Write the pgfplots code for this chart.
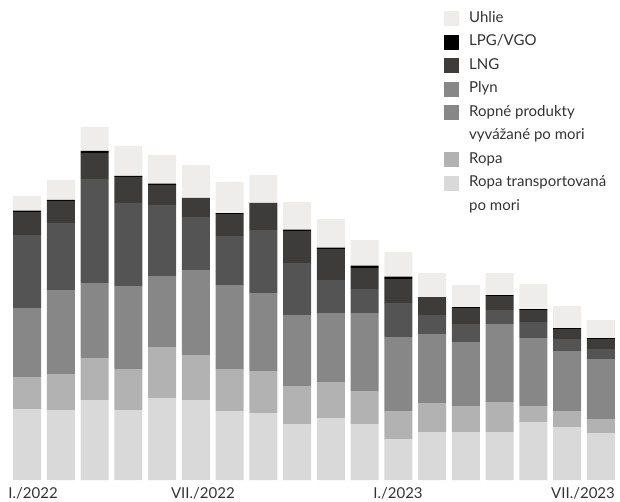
\documentclass[border=0pt]{standalone}
\usepackage{pgfplots}
\pgfplotsset{compat=1.18}
\usepackage{pgfplotstable}
\usepackage{fontspec}
\setmainfont{Lato}

\definecolor{cUhlie}{HTML}{EEEDEB}
\definecolor{cLPG}{HTML}{000000}
\definecolor{cLNG}{HTML}{3D3C3A}
\definecolor{cPlyn}{HTML}{545454}
\definecolor{cRopne}{HTML}{878787}
\definecolor{cRopa}{HTML}{B2B2B2}
\definecolor{cRT}{HTML}{D9D9D9}
\definecolor{ctext}{HTML}{333333}

% one row per month, Jan 2022 - Jun 2023
\pgfplotstableread{
x  RT  Ropa Ropne Plyn LNG LPG Uhlie
0  71  32   69    73   23  1.3 14.7
1  70  36   84    67   22  1.0 20.0
2  80  42   75    104  26  2.0 24.0
3  70  41   83    83   26  1.0 30.0
4  82  51   71    71   20  1.3 28.7
5  80  45   85    53   19  0.0 33.0
6  69  42   84    49   22  1.0 31.0
7  67  42   78    63   27  0.0 28.0
8  56  38   71    52   32  1.3 27.7
9  62  36   69    33   31  1.3 28.7
10 56  33   78    24   21  2.3 25.7
11 41  28   74    34   24  2.3 24.7
12 48  29   69    19   18  0.0 24.0
13 48  26   64    18   16  1.0 22.0
14 48  30   78    14   14  1.0 22.0
15 58  16   68    16   12  1.0 25.0
16 53  16   60    12   10  1.0 22.0
17 47  14   60    10   10  1.0 18.0
}\energy

\begin{document}
\begin{tikzpicture}
\useasboundingbox (0pt,-21pt) rectangle (620pt,480pt);
\begin{axis}[
  at={(0pt,0pt)}, anchor=south west,
  scale only axis,
  width=620pt, height=480pt,
  xmin=-0.8, xmax=17.565,
  ymin=0, ymax=480,
  ybar stacked,
  bar width=28pt,
  axis line style={draw=none},
  tick style={draw=none},
  ytick=\empty,
  xtick={0.18,5.21,10.99,16.47},
  xticklabels={{I./2022},{VII./2022},{I./2023},{VII./2023}},
  xticklabel style={anchor=base, yshift=-18pt, font=\fontsize{15}{18}\selectfont, text=ctext},
  legend image code/.code={\fill[#1, draw=none] (0pt,-7.5pt) rectangle (15pt,7.5pt);},
  legend cell align=left,
  legend style={
    at={(rel axis cs:0.7161,0.9771)}, anchor=north west,
    draw=none, fill=none, inner xsep=0pt, inner ysep=0pt,
    row sep=8.5pt, column sep=10pt,
    font=\fontsize{15}{18}\selectfont, text=ctext,
    nodes={inner sep=0pt, text height=11pt, text depth=4pt},
  },
]
\addplot[fill=cRT, draw=none, forget plot] table[x=x, y=RT] {\energy};
\addplot[fill=cRopa, draw=none, forget plot] table[x=x, y=Ropa] {\energy};
\addplot[fill=cRopne, draw=none, forget plot] table[x=x, y=Ropne] {\energy};
\addplot[fill=cPlyn, draw=none, forget plot] table[x=x, y=Plyn] {\energy};
\addplot[fill=cLNG, draw=none, forget plot] table[x=x, y=LNG] {\energy};
\addplot[fill=cLPG, draw=none, forget plot] table[x=x, y=LPG] {\energy};
\addplot[fill=cUhlie, draw=none, forget plot] table[x=x, y=Uhlie] {\energy};

\addlegendimage{fill=cUhlie, draw=none}\addlegendentry{Uhlie}
\addlegendimage{fill=cLPG, draw=none}\addlegendentry{LPG/VGO}
\addlegendimage{fill=cLNG, draw=none}\addlegendentry{LNG}
\addlegendimage{fill=cRopne, draw=none}\addlegendentry{Plyn}
\addlegendimage{fill=cRopne, draw=none}\addlegendentry{Ropné produkty}
\addlegendimage{empty legend}\addlegendentry{vyvážané po mori}
\addlegendimage{fill=cRopa, draw=none}\addlegendentry{Ropa}
\addlegendimage{fill=cRT, draw=none}\addlegendentry{Ropa transportovaná}
\addlegendimage{empty legend}\addlegendentry{po mori}
\end{axis}
\end{tikzpicture}
\end{document}
